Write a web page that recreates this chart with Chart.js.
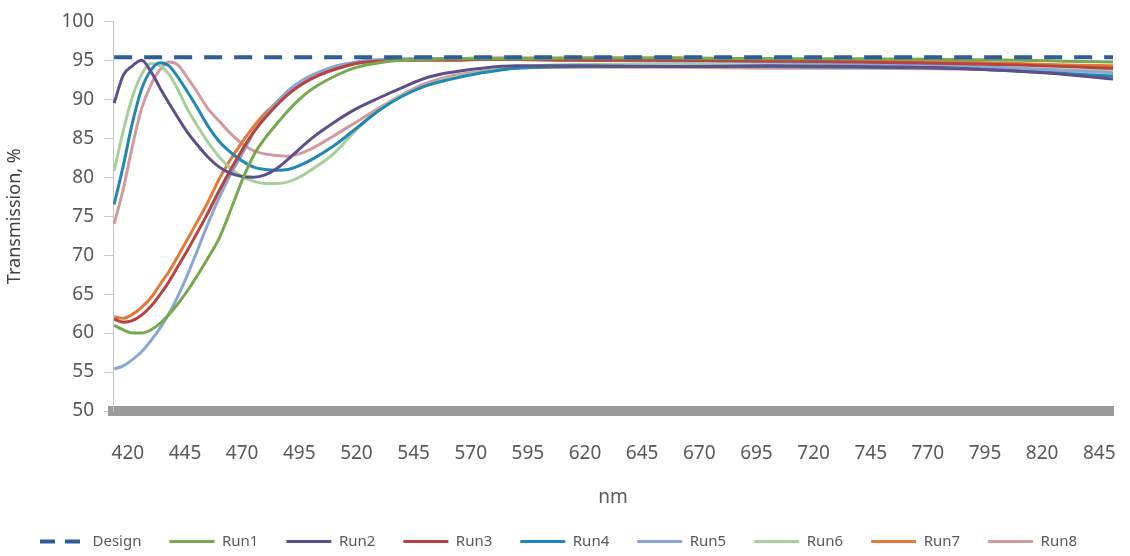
<!DOCTYPE html>
<html>
<head>
<meta charset="utf-8">
<script src="https://cdn.jsdelivr.net/npm/chart.js@4/dist/chart.umd.min.js"></script>
<style>
  html, body { margin: 0; padding: 0; background: #fff; }
  #wrap { width: 1130px; height: 556px; }
</style>
</head>
<body>
<div id="wrap"><canvas id="transChart" width="1130" height="556"></canvas></div>
<script>
const wavelengths = [414, 418, 422, 426, 430, 434, 438, 442, 446, 450, 455, 460, 465, 470, 475, 480, 485, 490, 495, 500,
    510, 520, 530, 540, 550, 560, 575, 590, 620, 660, 700, 740, 780, 810, 830, 851];

const designWavelengths = [414, 851];
const design = [95.4, 95.4];

const run1 = [61.0, 60.4, 60.0, 60.0, 60.4, 61.2, 62.4, 63.8, 65.4, 67.2, 69.6, 72.2, 75.8, 79.6, 82.8, 85.0, 86.8, 88.5, 90.0, 91.2,
    92.9, 94.1, 94.7, 95.0, 95.1, 95.2, 95.2, 95.2, 95.3, 95.3, 95.2, 95.2, 95.1, 95.0, 94.9, 94.8];
const run2 = [89.5, 93.1, 94.3, 95.0, 93.6, 91.5, 89.5, 87.6, 85.8, 84.3, 82.6, 81.3, 80.5, 80.1, 80.0, 80.3, 81.1, 82.3, 83.6, 84.9,
    87.0, 88.8, 90.2, 91.5, 92.7, 93.4, 94.0, 94.3, 94.3, 94.2, 94.3, 94.2, 94.0, 93.6, 93.2, 92.6];
const run3 = [61.8, 61.4, 61.6, 62.3, 63.4, 64.9, 66.6, 68.6, 70.6, 72.7, 75.4, 78.3, 81.0, 83.5, 85.8, 87.6, 89.2, 90.6, 91.7, 92.6,
    93.8, 94.6, 94.9, 95.0, 95.0, 95.0, 95.1, 95.1, 95.0, 95.0, 94.9, 94.8, 94.6, 94.4, 94.2, 94.0];
const run4 = [76.5, 81.5, 87.0, 91.3, 93.7, 94.7, 94.3, 92.8, 91.0, 89.1, 86.6, 84.6, 83.2, 82.1, 81.3, 81.0, 80.9, 81.0, 81.5, 82.2,
    84.0, 86.3, 88.6, 90.4, 91.7, 92.5, 93.4, 94.0, 94.2, 94.2, 94.2, 94.1, 94.0, 93.6, 93.3, 93.0];
const run5 = [55.4, 55.8, 56.6, 57.6, 59.0, 60.6, 62.5, 64.8, 67.4, 70.3, 74.0, 77.4, 80.4, 83.0, 85.7, 87.8, 89.6, 91.1, 92.2, 93.0,
    94.2, 94.8, 95.1, 95.2, 95.2, 95.2, 95.2, 95.1, 95.0, 94.9, 94.8, 94.6, 94.3, 94.0, 93.7, 93.4];
const run6 = [80.8, 86.0, 90.3, 93.2, 94.6, 94.3, 93.2, 91.2, 88.8, 86.8, 84.5, 82.6, 81.1, 80.1, 79.5, 79.2, 79.2, 79.4, 80.0, 80.9,
    83.0, 86.1, 88.7, 90.5, 91.7, 92.6, 93.5, 94.1, 94.5, 94.5, 94.4, 94.3, 94.1, 93.9, 93.8, 93.6];
const run7 = [62.1, 61.9, 62.4, 63.3, 64.5, 66.2, 67.9, 69.9, 72.0, 74.1, 76.8, 79.8, 82.3, 84.5, 86.5, 88.2, 89.6, 91.0, 92.1, 93.0,
    94.1, 94.7, 95.0, 95.1, 95.2, 95.2, 95.3, 95.3, 95.3, 95.3, 95.2, 95.0, 94.8, 94.6, 94.4, 94.3];
const run8 = [74.0, 78.5, 84.0, 88.8, 91.8, 93.8, 94.8, 94.4, 92.8, 91.1, 88.8, 87.2, 85.6, 84.3, 83.4, 83.0, 82.8, 82.7, 83.0, 83.6,
    85.3, 87.1, 88.9, 90.6, 92.0, 92.9, 93.6, 94.0, 94.1, 94.1, 94.0, 94.0, 93.9, 93.8, 93.7, 93.8];

// tick labels
const xTicks = [420, 445, 470, 495, 520, 545, 570, 595, 620, 645, 670, 695, 720, 745, 770, 795, 820, 845];
const yTicks = [50, 55, 60, 65, 70, 75, 80, 85, 90, 95, 100];

const fontFamily = '"Noto Sans", "DejaVu Sans", sans-serif';

function pts(xs, ys) {
    return xs.map((x, i) => ({ x: x, y: ys[i] }));
}

function run(label, values, color) {
    return {
        label: label,
        data: pts(wavelengths, values),
        borderColor: color,
        backgroundColor: color,
        borderWidth: 3,
        pointRadius: 0,
        pointStyle: 'line',
        cubicInterpolationMode: 'monotone'
    };
}

const ctx = document.getElementById('transChart').getContext('2d');

new Chart(ctx, {
    type: 'line',
    data: {
        datasets: [
            {
                label: 'Design',
                data: pts(designWavelengths, design),
                borderColor: '#2e5e99',
                backgroundColor: '#2e5e99',
                borderWidth: 4,
                borderDash: [18, 12],
                pointRadius: 0,
                pointStyle: 'line'
            },
            run('Run1', run1, '#77a94f'),
            run('Run2', run2, '#5d4f8a'),
            run('Run3', run3, '#b6433f'),
            run('Run4', run4, '#2187b5'),
            run('Run5', run5, '#8aa6d6'),
            run('Run6', run6, '#a8cf9a'),
            run('Run7', run7, '#e07a36'),
            run('Run8', run8, '#d39a9e')
        ]
    },
    options: {
        responsive: false,
        animation: false,
        layout: {
            padding: { left: 4, right: 17, top: 20, bottom: -3 }
        },
        plugins: {
            legend: {
                position: 'bottom',
                labels: {
                    usePointStyle: true,
                    pointStyleWidth: 45,
                    boxHeight: 14,
                    padding: 28,
                    color: '#595959',
                    font: { family: fontFamily, size: 15 },
                    generateLabels: function(chart) {
                        const items = Chart.defaults.plugins.legend.labels.generateLabels(chart);
                        items.forEach(item => {
                            const ds = chart.data.datasets[item.datasetIndex];
                            item.lineDash = ds.borderDash ? [15, 10] : [];
                            item.lineWidth = ds.borderWidth;
                        });
                        return items;
                    }
                }
            },
            tooltip: { enabled: false }
        },
        scales: {
            x: {
                type: 'linear',
                min: 413.5,
                max: 851,
                afterBuildTicks: function(scale) {
                    scale.ticks = xTicks.map(v => ({ value: v }));
                },
                afterFit: function(scale) {
                    scale.height = 95;
                    scale.paddingLeft = 0;
                    scale.paddingRight = 0;
                },
                grid: { display: false },
                border: { display: true, color: '#9b9b9b', width: 10 },
                ticks: {
                    autoSkip: false,
                    maxRotation: 0,
                    padding: 23,
                    color: '#595959',
                    font: { family: fontFamily, size: 19 }
                },
                title: {
                    display: true,
                    text: 'nm',
                    color: '#595959',
                    font: { family: fontFamily, size: 19 },
                    padding: { top: 4, bottom: -3 }
                }
            },
            y: {
                min: 50,
                max: 100,
                afterBuildTicks: function(scale) {
                    scale.ticks = yTicks.map(v => ({ value: v }));
                },
                afterFit: function(scale) {
                    scale.width = 109;
                },
                grid: {
                    drawOnChartArea: false,
                    drawTicks: true,
                    tickLength: 9,
                    color: '#c8c8c8'
                },
                border: { display: true, color: '#c8c8c8', width: 1 },
                ticks: {
                    padding: 10,
                    color: '#595959',
                    font: { family: fontFamily, size: 19 }
                },
                title: {
                    display: true,
                    text: 'Transmission, %',
                    color: '#404040',
                    font: { family: fontFamily, size: 18 },
                    padding: { top: 0, bottom: 0 }
                }
            }
        }
    }
});
</script>
</body>
</html>
